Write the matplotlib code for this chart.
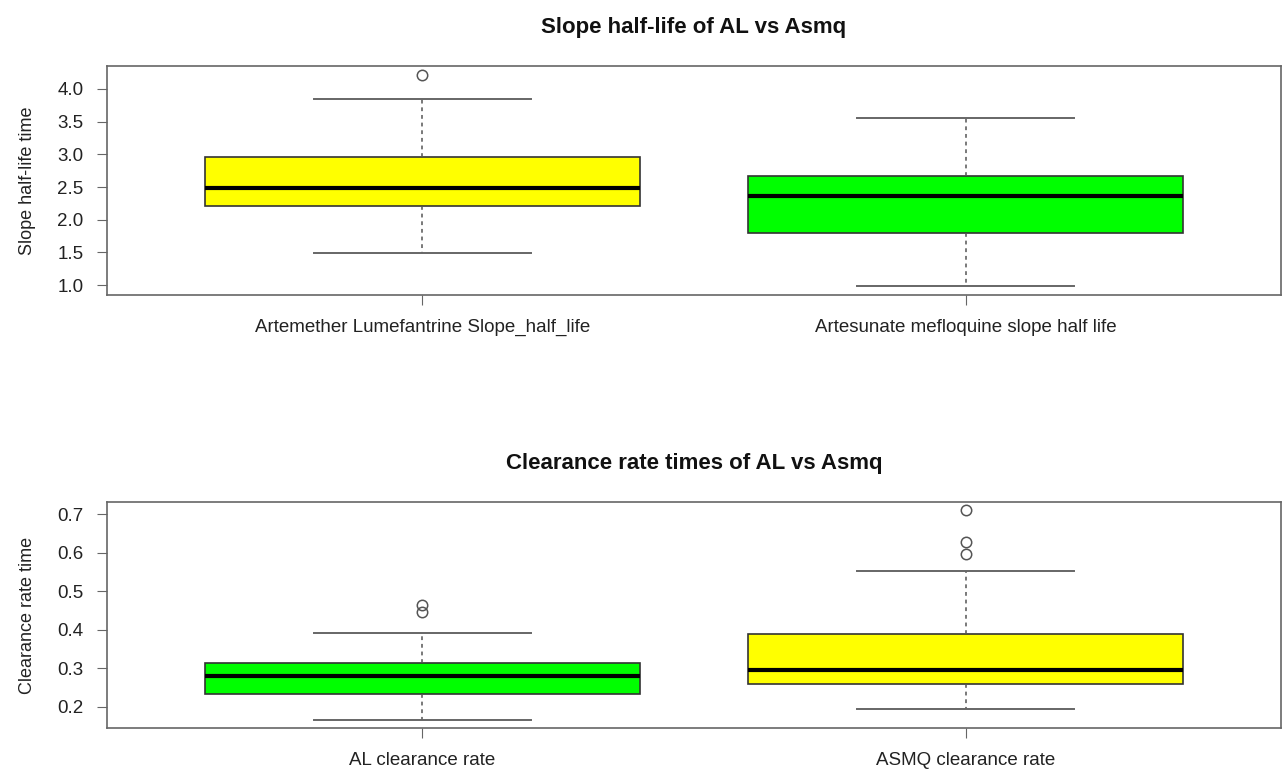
import matplotlib
matplotlib.use("Agg")
import matplotlib.pyplot as plt

plt.rcParams['font.family'] = ['Liberation Sans', 'DejaVu Sans']

# Slope half-life summary (whisker low, Q1, median, Q3, whisker high, outliers)
slope_labels = ["Artemether Lumefantrine Slope_half_life", "Artesunate mefloquine slope half life"]
slope_whislo = [1.49, 0.98]
slope_q1 = [2.21, 1.79]
slope_med = [2.48, 2.36]
slope_q3 = [2.96, 2.67]
slope_whishi = [3.85, 3.56]
slope_fliers = [[4.21], []]
slope_colors = ["#FFFF00", "#00FF00"]

# Clearance rate summary
clear_labels = ["AL clearance rate", "ASMQ clearance rate"]
clear_whislo = [0.167, 0.195]
clear_q1 = [0.234, 0.259]
clear_med = [0.280, 0.295]
clear_q3 = [0.313, 0.388]
clear_whishi = [0.391, 0.553]
clear_fliers = [[0.447, 0.465], [0.597, 0.628, 0.710]]
clear_colors = ["#00FF00", "#FFFF00"]

W, H = 1283, 777
fig = plt.figure(figsize=(W / 100, H / 100), dpi=100)


def px_axes(left, top, right, bottom):
    return fig.add_axes([left / W, 1 - bottom / H, (right - left) / W, (bottom - top) / H])


def draw_panel(ax, labels, lo, q1, med, q3, hi, fliers, colors, title, ylabel, yticks, ylim):
    stats = []
    for i in range(len(labels)):
        stats.append(dict(whislo=lo[i], q1=q1[i], med=med[i], q3=q3[i], whishi=hi[i],
                          fliers=fliers[i], label=labels[i]))
    bp = ax.bxp(stats, positions=[1, 2], widths=0.8, patch_artist=True,
                boxprops=dict(edgecolor="#333333", linewidth=1.2),
                medianprops=dict(color="black", linewidth=3.0),
                whiskerprops=dict(color="#555555", linestyle=(0, (2.5, 2.5)), linewidth=1.1),
                capprops=dict(color="#666666", linewidth=1.4),
                capwidths=0.4,
                flierprops=dict(marker="o", markerfacecolor="none", markeredgecolor="#555555",
                                markersize=7.5, markeredgewidth=1.1))
    for patch, c in zip(bp["boxes"], colors):
        patch.set_facecolor(c)
    ax.set_xlim(0.42, 2.58)
    ax.set_ylim(*ylim)
    ax.set_yticks(yticks)
    ax.set_yticklabels([f"{t:.1f}" for t in yticks])
    ax.set_xticks([1, 2])
    ax.set_xticklabels(labels)
    for s in ax.spines.values():
        s.set_color("#666666")
        s.set_linewidth(1.2)
    ax.tick_params(axis="both", direction="out", length=7, color="#666666",
                   labelsize=13.5, labelcolor="#222222", pad=10)
    ax.set_title(title, fontsize=16, fontweight="bold", pad=24, color="#111111")
    ax.set_ylabel(ylabel, fontsize=13, labelpad=15, color="#222222")


ax1 = px_axes(107, 66, 1281, 295)
draw_panel(ax1, slope_labels, slope_whislo, slope_q1, slope_med, slope_q3, slope_whishi,
           slope_fliers, slope_colors, "Slope half-life of AL vs Asmq", "Slope half-life time",
           [1.0, 1.5, 2.0, 2.5, 3.0, 3.5, 4.0], (0.85, 4.35))

ax2 = px_axes(107, 502, 1281, 728)
draw_panel(ax2, clear_labels, clear_whislo, clear_q1, clear_med, clear_q3, clear_whishi,
           clear_fliers, clear_colors, "Clearance rate times of AL vs Asmq", "Clearance rate time",
           [0.2, 0.3, 0.4, 0.5, 0.6, 0.7], (0.145, 0.732))

fig.savefig("out.png", dpi=100)
